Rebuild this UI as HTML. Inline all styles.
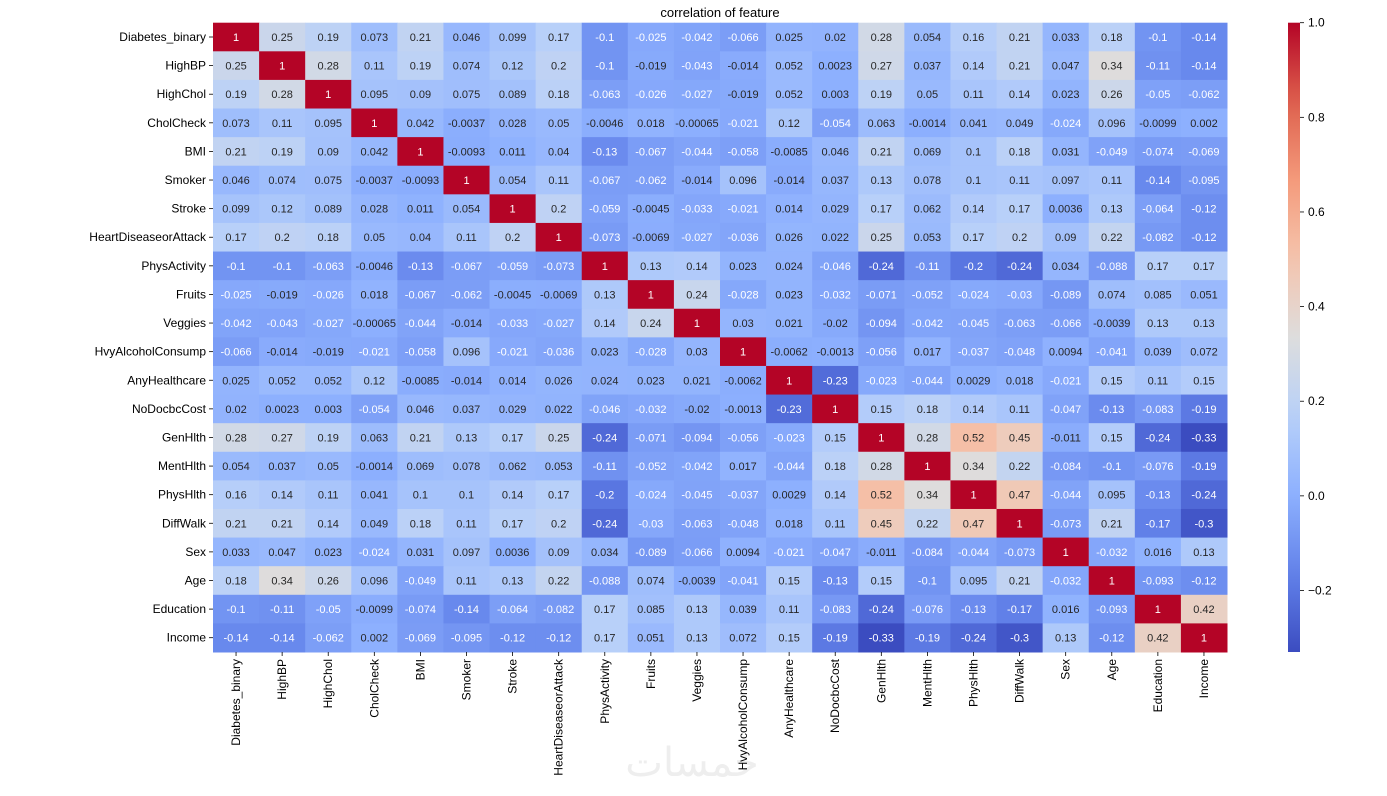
<!DOCTYPE html>
<html><head><meta charset="utf-8">
<style>
html,body{margin:0;padding:0;background:#fff;}
svg{display:block;font-family:"Liberation Sans","DejaVu Sans",sans-serif;}
</style></head>
<body>
<svg id="chart" width="1387" height="796" viewBox="0 0 1387 796">
<text x="720" y="17" text-anchor="middle" font-size="13" fill="#000">correlation of feature</text>
<text x="692" y="776" text-anchor="middle" font-size="40" fill="#eeeeee">خمسات</text>
<defs><linearGradient id="cbgrad" x1="0" y1="1" x2="0" y2="0"></linearGradient></defs>
<g id="cells"></g><g id="annots"></g><g id="ylabels"></g><g id="xlabels"></g><g id="colorbar"></g>
</svg>
<script>
const features = ["Diabetes_binary","HighBP","HighChol","CholCheck","BMI","Smoker","Stroke","HeartDiseaseorAttack","PhysActivity","Fruits","Veggies","HvyAlcoholConsump","AnyHealthcare","NoDocbcCost","GenHlth","MentHlth","PhysHlth","DiffWalk","Sex","Age","Education","Income"];
const lowerTriangle = [
[1],
[0.25,1],
[0.19,0.28,1],
[0.073,0.11,0.095,1],
[0.21,0.19,0.09,0.042,1],
[0.046,0.074,0.075,-0.0037,-0.0093,1],
[0.099,0.12,0.089,0.028,0.011,0.054,1],
[0.17,0.2,0.18,0.05,0.04,0.11,0.2,1],
[-0.1,-0.1,-0.063,-0.0046,-0.13,-0.067,-0.059,-0.073,1],
[-0.025,-0.019,-0.026,0.018,-0.067,-0.062,-0.0045,-0.0069,0.13,1],
[-0.042,-0.043,-0.027,-0.00065,-0.044,-0.014,-0.033,-0.027,0.14,0.24,1],
[-0.066,-0.014,-0.019,-0.021,-0.058,0.096,-0.021,-0.036,0.023,-0.028,0.03,1],
[0.025,0.052,0.052,0.12,-0.0085,-0.014,0.014,0.026,0.024,0.023,0.021,-0.0062,1],
[0.02,0.0023,0.003,-0.054,0.046,0.037,0.029,0.022,-0.046,-0.032,-0.02,-0.0013,-0.23,1],
[0.28,0.27,0.19,0.063,0.21,0.13,0.17,0.25,-0.24,-0.071,-0.094,-0.056,-0.023,0.15,1],
[0.054,0.037,0.05,-0.0014,0.069,0.078,0.062,0.053,-0.11,-0.052,-0.042,0.017,-0.044,0.18,0.28,1],
[0.16,0.14,0.11,0.041,0.1,0.1,0.14,0.17,-0.2,-0.024,-0.045,-0.037,0.0029,0.14,0.52,0.34,1],
[0.21,0.21,0.14,0.049,0.18,0.11,0.17,0.2,-0.24,-0.03,-0.063,-0.048,0.018,0.11,0.45,0.22,0.47,1],
[0.033,0.047,0.023,-0.024,0.031,0.097,0.0036,0.09,0.034,-0.089,-0.066,0.0094,-0.021,-0.047,-0.011,-0.084,-0.044,-0.073,1],
[0.18,0.34,0.26,0.096,-0.049,0.11,0.13,0.22,-0.088,0.074,-0.0039,-0.041,0.15,-0.13,0.15,-0.1,0.095,0.21,-0.032,1],
[-0.1,-0.11,-0.05,-0.0099,-0.074,-0.14,-0.064,-0.082,0.17,0.085,0.13,0.039,0.11,-0.083,-0.24,-0.076,-0.13,-0.17,0.016,-0.093,1],
[-0.14,-0.14,-0.062,0.002,-0.069,-0.095,-0.12,-0.12,0.17,0.051,0.13,0.072,0.15,-0.19,-0.33,-0.19,-0.24,-0.3,0.13,-0.12,0.42,1]
];
const colorbarTicks = [-0.2,0.0,0.2,0.4,0.6,0.8,1.0];
const colorbarTickLabels = ["−0.2","0.0","0.2","0.4","0.6","0.8","1.0"];

const NS="http://www.w3.org/2000/svg";
const n=features.length;
const L=213,R=1227,T=22.7,B=652;
const cw=(R-L)/n, ch=(B-T)/n;
let vmin=Infinity,vmax=-Infinity;
function val(i,j){return i>=j?lowerTriangle[i][j]:lowerTriangle[j][i];}
for(let i=0;i<n;i++)for(let j=0;j<n;j++){const v=val(i,j);if(v<vmin)vmin=v;if(v>vmax)vmax=v;}
const cmapStops=[[59,76,192],[98,130,234],[141,176,254],[184,208,249],[221,221,221],[245,196,173],[244,154,123],[222,96,77],[180,4,38]];
function cmap(t){t=Math.max(0,Math.min(1,t));const p=t*8,k=Math.min(7,Math.floor(p)),f=p-k;const a=cmapStops[k],b=cmapStops[k+1];return [0,1,2].map(q=>Math.round(a[q]+(b[q]-a[q])*f));}
function rgb(c){return "rgb("+c.join(",")+")";}
function lum(c){const l=c.map(x=>{x/=255;return x<=0.03928?x/12.92:Math.pow((x+0.055)/1.055,2.4);});return 0.2126*l[0]+0.7152*l[1]+0.0722*l[2];}
function xPos(j){return L+j*cw;}
function yPos(i){return T+i*ch;}
function fmt(v){return String(Number(v.toPrecision(2)));}
function mk(tag,attrs,parent){const e=document.createElementNS(NS,tag);for(const k in attrs)e.setAttribute(k,attrs[k]);parent.appendChild(e);return e;}
const gC=document.getElementById("cells"),gA=document.getElementById("annots"),gY=document.getElementById("ylabels"),gX=document.getElementById("xlabels"),gB=document.getElementById("colorbar");
for(let i=0;i<n;i++){for(let j=0;j<n;j++){
  const v=val(i,j);const c=cmap((v-vmin)/(vmax-vmin));
  const r=mk("rect",{x:xPos(j),y:yPos(i),width:cw+0.5,height:ch+0.5,fill:rgb(c)},gC);
  
  
  const t=mk("text",{x:xPos(j)+cw/2,y:yPos(i)+ch/2+4,"text-anchor":"middle","font-size":"11",fill:lum(c)>0.408?"#262626":"#ffffff"},gA);
  t.textContent=fmt(v);
  
  
}}
features.forEach((f,i)=>{
  mk("line",{x1:L-4,x2:L,y1:yPos(i)+ch/2,y2:yPos(i)+ch/2,stroke:"#000","stroke-width":0.8},gY);
  const t=mk("text",{x:L-7,y:yPos(i)+ch/2+4,"text-anchor":"end","font-size":"12",fill:"#000"},gY);
  t.textContent=f;
  
  
  const xc=xPos(i)+cw/2;
  mk("line",{x1:xc,x2:xc,y1:B,y2:B+4,stroke:"#000","stroke-width":0.8},gX);
  const tx=mk("text",{x:0,y:0,"text-anchor":"end","font-size":"12",fill:"#000",transform:"translate("+(xc+4)+","+(B+7)+") rotate(-90)"},gX);
  tx.textContent=f;
  
  
});
const CBL=1288,CBW=12;
const grad=document.getElementById("cbgrad");
for(let k=0;k<=20;k++){const c=cmap(k/20);mk("stop",{offset:(k*5)+"%","stop-color":rgb(c)},grad);}
const cb=mk("rect",{x:CBL,y:T,width:CBW,height:B-T,fill:"url(#cbgrad)"},gB);


function cbY(v){return B-(v-vmin)/(vmax-vmin)*(B-T);}
colorbarTicks.forEach((v,k)=>{
  const y=cbY(v);
  mk("line",{x1:CBL+CBW,x2:CBL+CBW+4,y1:y,y2:y,stroke:"#000","stroke-width":0.8},gB);
  const t=mk("text",{x:CBL+CBW+8,y:y+4,"font-size":"12",fill:"#000"},gB);
  t.textContent=colorbarTickLabels[k];
  
  
});
</script>
</body></html>
